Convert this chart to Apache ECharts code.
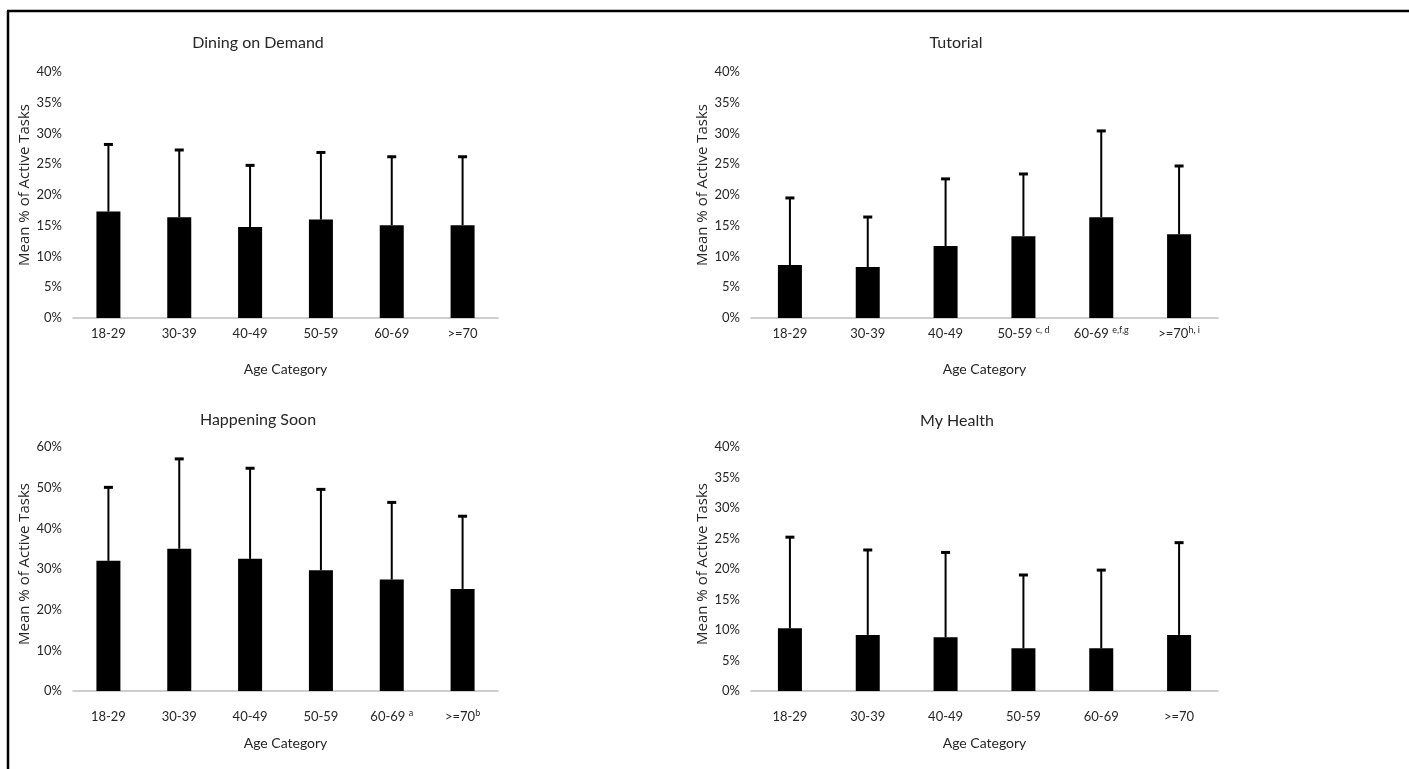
<!DOCTYPE html>
<html><head><meta charset="utf-8">
<script src="https://cdn.jsdelivr.net/npm/echarts@6/dist/echarts.min.js"></script>
<style>html,body{margin:0;padding:0;background:#fff}#c{width:1409px;height:769px}</style>
</head><body><div id="c"></div>
<script>
const categories = ['18-29', '30-39', '40-49', '50-59', '60-69', '>=70'];
const tutorialCategories = ['18-29', '30-39', '40-49', '50-59 {sup|c, d}', '60-69 {sup|e,f,g}', '>=70{sup|h, i}'];
const soonCategories = ['18-29', '30-39', '40-49', '50-59', '60-69 {sup|a}', '>=70{sup|b}'];
const percentTicks40 = [0, 5, 10, 15, 20, 25, 30, 35, 40];
const percentTicks60 = [0, 10, 20, 30, 40, 50, 60];

const diningMean  = [17.3, 16.4, 14.8, 16.0, 15.1, 15.1];
const diningUpper = [28.3, 27.4, 24.9, 27.0, 26.3, 26.3];
const tutorialMean  = [8.6, 8.3, 11.7, 13.3, 16.4, 13.6];
const tutorialUpper = [19.6, 16.5, 22.7, 23.5, 30.5, 24.8];
const soonMean  = [32.0, 35.0, 32.5, 29.7, 27.4, 25.1];
const soonUpper = [50.2, 57.2, 54.9, 49.7, 46.5, 43.1];
const healthMean  = [10.3, 9.2, 8.8, 7.0, 7.0, 9.2];
const healthUpper = [25.3, 23.2, 22.8, 19.1, 19.9, 24.4];

const panels = [
  {title: 'Dining on Demand', cats: categories, mean: diningMean, upper: diningUpper, ticks: percentTicks40, grid: {left: 73, top: 72, width: 425, height: 246}, titleX: 258, titleY: 43, barW: 24, labelMargin: 8, nameGap: 44, yShift: 20},
  {title: 'Tutorial', cats: tutorialCategories, mean: tutorialMean, upper: tutorialUpper, ticks: percentTicks40, grid: {left: 751, top: 72, width: 467, height: 246}, titleX: 956, titleY: 43, barW: 24, labelMargin: 8, nameGap: 44, yShift: 20},
  {title: 'Happening Soon', cats: soonCategories, mean: soonMean, upper: soonUpper, ticks: percentTicks60, grid: {left: 73, top: 447, width: 425, height: 244}, titleX: 258, titleY: 420, barW: 24, labelMargin: 18, nameGap: 45, yShift: 10},
  {title: 'My Health', cats: categories, mean: healthMean, upper: healthUpper, ticks: percentTicks40, grid: {left: 751, top: 447, width: 467, height: 244}, titleX: 957, titleY: 421, barW: 24, labelMargin: 18, nameGap: 45, yShift: 10}
];

const FONT = 'Lato, "Open Sans", sans-serif';
const TXT = '#262626';
const option = {
  animation: false,
  backgroundColor: '#fff',
  title: panels.map(p => ({
    text: p.title, left: p.titleX, top: p.titleY, padding: 0, textAlign: 'center', textVerticalAlign: 'middle',
    textStyle: {fontFamily: FONT, fontSize: 16, fontWeight: 'normal', color: TXT}
  })),
  grid: panels.map(p => Object.assign({containLabel: false}, p.grid)),
  xAxis: panels.map((p, i) => ({
    type: 'category', gridIndex: i, data: p.cats,
    name: 'Age Category', nameLocation: 'middle', nameGap: p.nameGap,
    nameTextStyle: {fontFamily: FONT, fontSize: 14, color: TXT},
    axisLine: {lineStyle: {color: '#bfbfbf', width: 1.5}},
    axisTick: {show: false},
    axisLabel: {
      fontFamily: FONT, fontSize: 13, color: TXT, margin: p.labelMargin, interval: 0, lineHeight: 16,
      rich: {sup: {fontFamily: FONT, fontSize: 9, color: TXT, verticalAlign: 'top', lineHeight: 6}}
    }
  })),
  yAxis: panels.map((p, i) => ({
    type: 'value', gridIndex: i, min: 0, max: p.ticks[p.ticks.length - 1], interval: p.ticks[1] - p.ticks[0],
    name: 'Mean % of Active Tasks', nameLocation: 'middle', nameGap: 36, nameRotate: 90,
    nameTextStyle: {fontFamily: '"Open Sans", sans-serif', fontSize: 15, color: TXT, padding: [0, 0, 0, p.yShift]},
    axisLine: {show: false}, axisTick: {show: false}, splitLine: {show: false},
    axisLabel: {fontFamily: FONT, fontSize: 13, color: TXT, margin: 11, formatter: v => v + '%'}
  })),
  series: panels.flatMap((p, i) => [
    {type: 'bar', xAxisIndex: i, yAxisIndex: i, data: p.mean, barWidth: p.barW, itemStyle: {color: '#000'}, z: 2},
    {type: 'custom', xAxisIndex: i, yAxisIndex: i, z: 3,
      data: p.mean.map((m, k) => [k, m, p.upper[k]]),
      renderItem: (params, api) => {
        const lo = api.coord([api.value(0), api.value(1)]);
        const hi = api.coord([api.value(0), api.value(2)]);
        return {type: 'group', children: [
          {type: 'line', shape: {x1: lo[0], y1: lo[1], x2: hi[0], y2: hi[1]}, style: {stroke: '#000', lineWidth: 2}},
          {type: 'line', shape: {x1: hi[0] - 4.5, y1: hi[1] + 0.5, x2: hi[0] + 4.5, y2: hi[1] + 0.5}, style: {stroke: '#000', lineWidth: 3}}
        ]};
      }
    }
  ]),
  graphic: [
    {type: 'line', shape: {x1: 7, y1: 11, x2: 1409, y2: 11}, style: {stroke: '#000', lineWidth: 2.5}},
    {type: 'line', shape: {x1: 8, y1: 11, x2: 8, y2: 769}, style: {stroke: '#000', lineWidth: 2.5}}
  ]
};
echarts.init(document.getElementById('c')).setOption(option);
</script></body></html>
